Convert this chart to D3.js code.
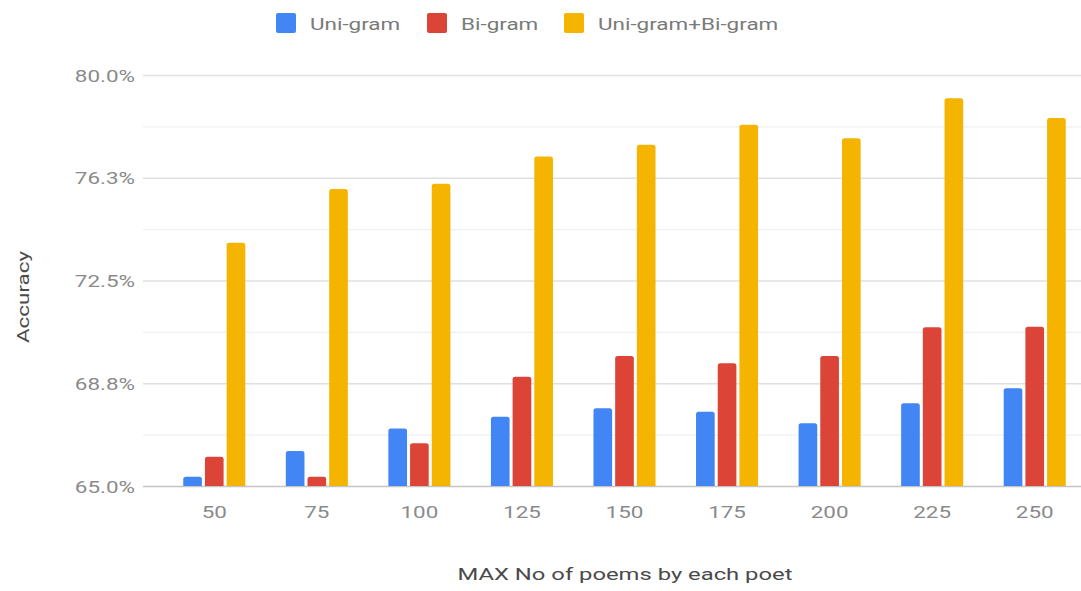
<!DOCTYPE html>
<html>
<head>
<meta charset="utf-8">
<script src="https://cdn.jsdelivr.net/npm/d3@7"></script>
<style>
  html, body { margin: 0; padding: 0; background: #fff; }
  svg { display: block; font-family: Roboto, "Noto Sans", sans-serif; }
</style>
</head>
<body>
<svg id="chart" width="1081" height="591"></svg>
<script>
// Data: accuracy (%) per maximum number of poems per poet
const categories = ["50", "75", "100", "125", "150", "175", "200", "225", "250"];
const seriesNames = ["Uni-gram", "Bi-gram", "Uni-gram+Bi-gram"];
const uniGram  = [65.34, 66.28, 67.10, 67.53, 67.84, 67.71, 67.29, 68.02, 68.57];
const biGram   = [66.07, 65.34, 66.56, 68.99, 69.74, 69.48, 69.74, 70.79, 70.81];
const combined = [73.88, 75.84, 76.03, 77.03, 77.45, 78.18, 77.69, 79.15, 78.43];
const yTicks = [65, 68.75, 72.5, 76.25, 80];
const yTickLabels = ["65.0%", "68.8%", "72.5%", "76.3%", "80.0%"];
const yMinorTicks = [66.875, 70.625, 74.375, 78.125];
const xTitle = "MAX No of poems by each poet";
const yTitle = "Accuracy";

const colors = ["#4285F4", "#DB4437", "#F4B400"];
const seriesValues = [uniGram, biGram, combined];

const svg = d3.select("#chart");
const W = 1081;
const gridLeft = 143;
const FS = 17;

// widen a text element along its own direction (wide lettering)
function widen(sel, factor = 1.32) {
  sel.each(function () {
    const len = this.getComputedTextLength();
    d3.select(this).attr("textLength", len * factor).attr("lengthAdjust", "spacingAndGlyphs");
  });
}

const y = d3.scaleLinear().domain([65, 80]).range([486, 75]);
const x0 = d3.scaleBand().domain(categories).range([163, 1086])
  .paddingInner(0.395).paddingOuter(0.1975);
const x1 = d3.scaleBand().domain(seriesNames).range([0, x0.bandwidth()])
  .paddingInner(0.14).paddingOuter(0);

// minor gridlines
const minor = svg.append("g").attr("transform", `translate(${gridLeft},0)`)
  .call(d3.axisLeft(y).tickValues(yMinorTicks).tickSize(-(W - gridLeft)).tickFormat(""));
minor.select(".domain").remove();
minor.selectAll("line").attr("stroke", "#efefef").attr("stroke-width", 1.3);

// major gridlines and y labels
const yAxis = svg.append("g").attr("transform", `translate(${gridLeft},0)`)
  .call(d3.axisLeft(y).tickValues(yTicks).tickSize(-(W - gridLeft)).tickPadding(8)
    .tickFormat((d, i) => yTickLabels[i]));
yAxis.select(".domain").remove();
yAxis.selectAll("line")
  .attr("stroke", d => d === 65 ? "#c4c4c4" : "#e0e0e0")
  .attr("stroke-width", 1.5);
yAxis.selectAll("text")
  .attr("fill", "#8a8a8a").attr("font-size", FS).attr("font-family", "Roboto")
  .attr("dy", "0.36em")
  .call(widen);

// bars
const groups = svg.append("g").selectAll("g")
  .data(categories)
  .join("g")
  .attr("transform", d => `translate(${x0(d)},0)`);

groups.selectAll("path")
  .data((c, i) => seriesNames.map((s, k) => ({ s, k, v: seriesValues[k][i] })))
  .join("path")
  .attr("fill", d => colors[d.k])
  .attr("d", d => {
    const bx = x1(d.s), bw = x1.bandwidth();
    const top = y(d.v), bot = y(65), r = Math.min(2.5, (bot - top) / 2);
    return `M${bx},${bot}V${top + r}Q${bx},${top} ${bx + r},${top}H${bx + bw - r}` +
      `Q${bx + bw},${top} ${bx + bw},${top + r}V${bot}Z`;
  });

// x axis labels
const xAxis = svg.append("g").attr("transform", `translate(0,${y(65)})`)
  .call(d3.axisBottom(x0).tickSize(0).tickPadding(20));
xAxis.select(".domain").remove();
xAxis.selectAll("text")
  .attr("fill", "#8a8a8a").attr("font-size", FS).attr("font-family", "Roboto")
  .call(widen);

// axis titles
svg.append("text")
  .attr("x", 625).attr("y", 580)
  .attr("text-anchor", "middle")
  .attr("fill", "#4a4a4a").attr("font-size", FS)
  .text(xTitle)
  .call(widen, 1.4);

svg.append("text")
  .attr("transform", "translate(29,297) rotate(-90)")
  .attr("text-anchor", "middle")
  .attr("fill", "#4a4a4a").attr("font-size", FS)
  .text(yTitle)
  .call(widen, 1.32);

// legend
const legendX = [276, 427, 564];
const legend = svg.append("g").selectAll("g")
  .data(seriesNames)
  .join("g")
  .attr("transform", (d, i) => `translate(${legendX[i]},13)`);
legend.append("rect")
  .attr("width", 20).attr("height", 20).attr("rx", 2)
  .attr("fill", (d, i) => colors[i]);
legend.append("text")
  .attr("x", 34).attr("y", 16.5)
  .attr("fill", "#7a7a7a").attr("font-size", FS)
  .text(d => d)
  .call(widen);
</script>
</body>
</html>
